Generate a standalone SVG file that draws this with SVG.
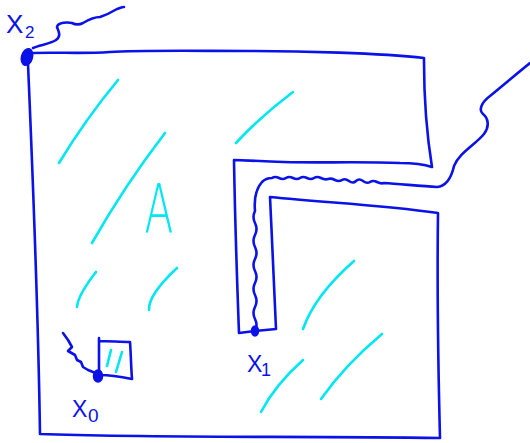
<svg xmlns="http://www.w3.org/2000/svg" width="530" height="443" viewBox="0 0 530 443">
<style>
.ln{fill:none;stroke:#0a12e8;stroke-width:2.6;stroke-linecap:round;stroke-linejoin:round}
.ht{fill:none;stroke:#00e6f2;stroke-width:2.6;stroke-linecap:round}
.lb{fill:#0a12e8;font-family:"Liberation Sans",Arial,sans-serif}
.dot{fill:#0a12e8;stroke:#0a12e8;stroke-width:1.5}
</style>
<rect width="530" height="443" fill="#ffffff"/>
<g id="region-A">
<path class="ln" d="M30,53 C60,52 80,54 110,52 S200,51 250,51 S380,53 424,58 L424,61 C424,95 426,130 432,167 C420,163 410,163 400,163 C350,161 300,164 260,161 L234,160 C235,220 237,280 239,333 L255,331 L276,329 C274,280 272,240 270,197 C330,203 380,205 438,213 C437,290 438,360 440,438 C300,436 150,438 40,434 C38,300 33,180 28,64"/>
<g id="hatches">
<path class="ht" d="M59,163 Q85,120 118,80"/>
<path class="ht" d="M92,243 Q125,185 165,133"/>
<path class="ht" d="M236,143 Q262,115 293,92"/>
<path class="ht" d="M77,307 Q78,295 96,272"/>
<path class="ht" d="M149,310 Q148,295 177,268"/>
<path class="ht" d="M303,329 Q315,295 354,261"/>
<path class="ht" d="M321,399 Q345,365 382,334"/>
<path class="ht" d="M261,412 Q275,385 303,360"/>
</g>
<text transform="translate(159,233) scale(0.62,1)" x="0" y="0" text-anchor="middle" font-family="DejaVu Sans, sans-serif" font-weight="200" font-size="68" fill="#00e6f2">A</text>
</g>
<g id="connectors">
<path class="ln" d="M33,48 C40,45 50,44 56,40 C62,36 58,30 57,27 C58,22 68,22 72,23 C76,25 79,25 83,23 C88,20 95,17 100,17 C106,15 112,12 117,9 C120,8 122,7 124,7"/>
<path class="ln" d="M255,331 Q258,325 255,319 T255,307 T255,295 T255,283 T255,271 T255,259 T255,247 T255,235 T255,223 T255,211 C254,200 255,190 262,182 C265,179 268,178 272,178 Q275,176 279,178 T286,178 T293,178 T300,178 T307,178 T314,178 T321,178 T328,179 T335,180 T342,180 T349,181 T356,181 T363,181 T370,182 T377,182 T384,183 C400,184 420,186 437,187 C448,186 452,175 454,166 C460,152 475,145 484,134 C490,126 488,118 483,114 C478,110 482,102 490,96 C500,88 515,75 530,63"/>
<path class="ln" d="M63,333 L68,340 L72,347 L68,351 L75,355 L77,360 L81,362 L83,367 L88,370 L93,372 L98,374"/>
</g>
<g id="x2">
<ellipse class="dot" cx="27" cy="57" rx="5.5" ry="8.5" transform="rotate(15 27 57)"/>
<text class="lb" x="6" y="33" font-size="26">X<tspan x="25" y="38" font-size="17">2</tspan></text>
</g>
<g id="x1">
<ellipse class="dot" cx="255" cy="331" rx="3.5" ry="5"/>
<text class="lb" x="247" y="372" font-size="23">X<tspan x="261" y="376" font-size="18">1</tspan></text>
</g>
<g id="x0">
<path class="ln" d="M99,338 L99,375 M99,341 C110,341 120,342 130,342 C131,355 131,367 132,379 C122,377 110,375 100,375"/>
<path class="ht" d="M111,350 L107,366 M122,352 L116,372"/>
<ellipse class="dot" cx="98" cy="376" rx="4.5" ry="6"/>
<text class="lb" x="72" y="417" font-size="23">X<tspan x="88" y="422" font-size="19">0</tspan></text>
</g>
</svg>
